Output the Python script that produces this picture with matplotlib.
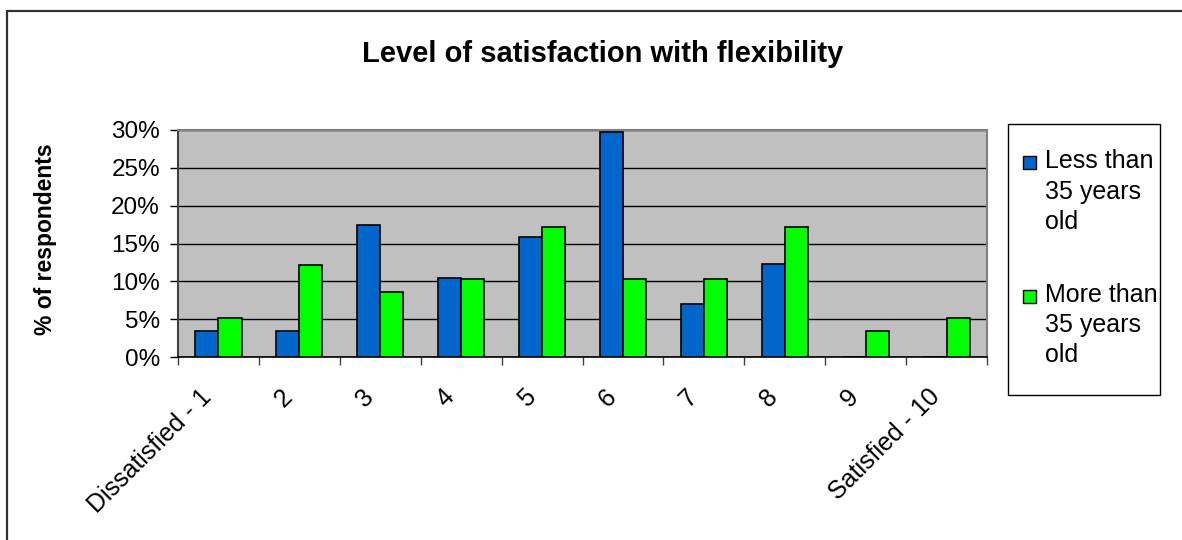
import matplotlib
matplotlib.use("Agg")
import matplotlib.pyplot as plt
from matplotlib.patches import Rectangle
from matplotlib.transforms import ScaledTranslation
import numpy as np

plt.rcParams['font.family'] = ['Liberation Sans', 'DejaVu Sans']

# ---- data ----
categories = ['Dissatisfied - 1', '2', '3', '4', '5', '6', '7', '8', '9', 'Satisfied - 10']
less_than_35 = [3.5, 3.5, 17.5, 10.5, 15.8, 29.8, 7.0, 12.3, 0.0, 0.0]
more_than_35 = [5.2, 12.1, 8.6, 10.3, 17.2, 10.3, 10.3, 17.2, 3.4, 5.2]
series_names = ['Less than\n35 years\nold', 'More than\n35 years\nold']
y_ticks = [0, 5, 10, 15, 20, 25, 30]
title = 'Level of satisfaction with flexibility'
y_label = '% of respondents'

W, H = 1182, 540
def fx(px):
    return px / W
def fy(py):
    return 1 - py / H

BLUE = '#0066CC'
GREEN = '#00FF00'
PLOT_BG = '#C0C0C0'

fig = plt.figure(figsize=(W / 100, H / 100), dpi=100)
fig.patch.set_facecolor('white')

# outer chart border (only left/top visible in the crop)
fig.patches.append(Rectangle((fx(7), -0.1), 1.2, fy(11) + 0.1, transform=fig.transFigure,
                             fill=False, edgecolor='#303030', linewidth=1.6, clip_on=False))

ax = fig.add_axes([fx(178), fy(357), fx(987) - fx(178), fy(130) - fy(357)])
ax.set_facecolor(PLOT_BG)

x = np.arange(len(categories))
bw = 0.285
ax.bar(x - bw / 2, less_than_35, width=bw, color=BLUE, edgecolor='black', linewidth=1.2, zorder=3)
ax.bar(x + bw / 2, more_than_35, width=bw, color=GREEN, edgecolor='black', linewidth=1.2, zorder=3)

ax.set_xlim(-0.5, len(categories) - 0.5)
ax.set_ylim(0, 30)
ax.set_yticks(y_ticks)
ax.set_yticklabels([f'{v}%' for v in y_ticks], fontsize=17.5)
ax.yaxis.grid(True, color='black', linewidth=1.0, zorder=1)
ax.set_axisbelow(True)

# x ticks: marks at boundaries (minor), labels at centres (major)
ax.set_xticks(x)
ax.set_xticklabels(categories, fontsize=18, rotation=45, ha='right', va='top', rotation_mode='anchor')
ax.set_xticks(np.arange(-0.5, len(categories), 1.0), minor=True)
ax.tick_params(axis='x', which='major', length=0, pad=20)
ax.tick_params(axis='x', which='minor', length=6, width=1, color='#404040', direction='out')
ax.tick_params(axis='y', length=6, width=1, color='black', direction='out', pad=7)
off = ScaledTranslation(-19 / 100, 0, fig.dpi_scale_trans)
for lab in ax.get_xticklabels():
    lab.set_transform(lab.get_transform() + off)

for side in ['top', 'right']:
    ax.spines[side].set_color('#808080')
    ax.spines[side].set_linewidth(1.5)
ax.spines['left'].set_color('#404040')
ax.spines['left'].set_linewidth(1.5)
ax.spines['bottom'].set_color('black')
ax.spines['bottom'].set_linewidth(1.2)

# title and y label
fig.text(fx(603), fy(62), title, fontsize=21, fontweight='bold', ha='center', va='baseline')
fig.text(fx(46), fy(239), y_label, fontsize=16.5, fontweight='bold', rotation=90,
         ha='center', va='center')

# legend (manual, Excel style)
fig.patches.append(Rectangle((fx(1008), fy(395)), fx(1160) - fx(1008), fy(124) - fy(395),
                             transform=fig.transFigure, fill=False, edgecolor='black',
                             linewidth=1.0))
legend_colors = [BLUE, GREEN]
square_tops = [156, 290]
baselines = [[168, 198.5, 229], [302, 332, 362]]
for name, col, st, bls in zip(series_names, legend_colors, square_tops, baselines):
    fig.patches.append(Rectangle((fx(1023), fy(st + 13)), fx(13), 13 / H,
                                 transform=fig.transFigure, facecolor=col,
                                 edgecolor='black', linewidth=1.0))
    for line, b in zip(name.split('\n'), bls):
        fig.text(fx(1045), fy(b), line, fontsize=18, ha='left', va='baseline')

fig.savefig('out.png', dpi=100)
